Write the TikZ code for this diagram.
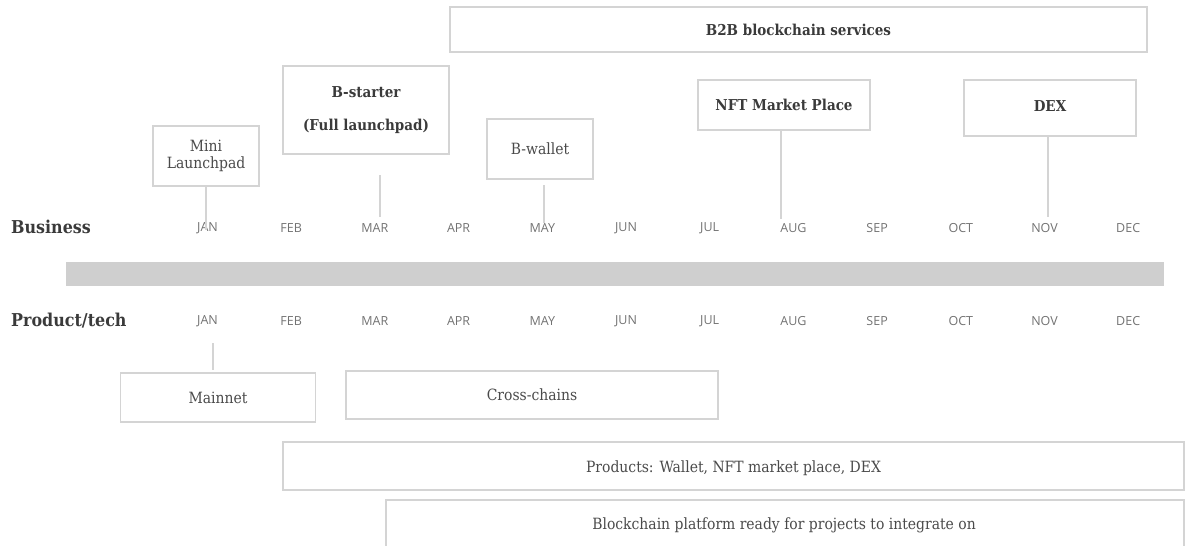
\documentclass[tikz,border=0pt]{standalone}
\usepackage{fontspec}
\setmainfont{DejaVu Serif Condensed}
\newfontfamily\monthfont{Open Sans}
\definecolor{boxline}{HTML}{D4D4D4}
\definecolor{barfill}{HTML}{CFCFCF}
\definecolor{labeltext}{HTML}{4A4A4A}
\definecolor{headtext}{HTML}{3A3A3A}
\definecolor{monthtext}{HTML}{727272}
\begin{document}
\begin{tikzpicture}[x=1pt,y=-1pt,
  evbox/.style={draw=boxline, line width=1.4pt, text=labeltext, align=center,
    inner sep=0pt, font=\fontsize{15.5}{17.5}\selectfont},
  evhead/.style={evbox, text=headtext, font=\fontsize{15}{33}\selectfont\bfseries},
  month/.style={text=monthtext, font=\monthfont\fontsize{12.5}{14}\selectfont},
  rowlabel/.style={anchor=west, text=headtext, inner sep=0pt, font=\fontsize{17.7}{21}\selectfont\bfseries},
  tick/.style={draw=boxline, line width=1.2pt}]
\useasboundingbox (0,0) rectangle (1186,546);

% central timeline bar
\fill[barfill] (66,262) rectangle (1164,286);

% row labels
\node[rowlabel] (business) at (11,227) {Business};
\node[rowlabel] (product) at (11,321) {Product/tech};

% month labels, upper and lower rows
\foreach \m [count=\i from 0] in {JAN,FEB,MAR,APR,MAY,JUN,JUL,AUG,SEP,OCT,NOV,DEC} {
  \node[month] (top\i) at ({207.5+83.7*\i},228) {\m};
  \node[month] (bot\i) at ({207.5+83.7*\i},321) {\m};
}

% business milestones
\node[evhead, minimum width=697pt, minimum height=45pt] (b2b) at (798.5,29.5) {B2B blockchain services};
\node[evbox, minimum width=106pt, minimum height=60pt] (mini) at (206,156) {Mini\\Launchpad};
\node[evhead, minimum width=166pt, minimum height=88pt] (bstarter) at (366,110) {B-starter\\(Full launchpad)};
\node[evbox, minimum width=106pt, minimum height=60pt] (bwallet) at (540,149) {B-wallet};
\node[evhead, minimum width=172pt, minimum height=50pt] (nft) at (784,105) {NFT Market Place};
\node[evhead, minimum width=172pt, minimum height=56pt] (dex) at (1050,108) {};
\node[text=headtext, font=\fontsize{15}{18}\selectfont\bfseries] (dextext) at (1050,106) {DEX};

% product/tech milestones
\node[evbox, minimum width=195pt, minimum height=49pt] (mainnet) at (218,397.5) {Mainnet};
\node[evbox, minimum width=372pt, minimum height=48pt] (cross) at (532,395) {Cross-chains};
\node[evbox, minimum width=901pt, minimum height=48pt] (products) at (733.5,466) {};
\node[text=labeltext, font=\fontsize{15.5}{17.5}\selectfont] (productstext) at (733.5,468) {Products: Wallet, NFT market place, DEX};
\node[evbox, minimum width=798pt, minimum height=60pt] (platform) at (785,530) {};
\node[text=labeltext, font=\fontsize{15.5}{17.5}\selectfont] (platformtext) at (784,525) {Blockchain platform ready for projects to integrate on};

% connector ends
\coordinate (miniend) at (206,230);
\coordinate (bsA) at (380,175);
\coordinate (bsB) at (380,217);
\coordinate (bwA) at (544,185);
\coordinate (bwB) at (544,223);
\coordinate (nftend) at (781,219);
\coordinate (dexend) at (1048,217);
\coordinate (mnA) at (213,343);
\coordinate (mnB) at (213,370);

\draw[tick] (mini.south) -- (miniend);
\draw[tick] (bsA) -- (bsB);
\draw[tick] (bwA) -- (bwB);
\draw[tick] (nft.south -| nftend) -- (nftend);
\draw[tick] (dex.south -| dexend) -- (dexend);
\draw[tick] (mnA) -- (mnB);
\end{tikzpicture}
\end{document}
